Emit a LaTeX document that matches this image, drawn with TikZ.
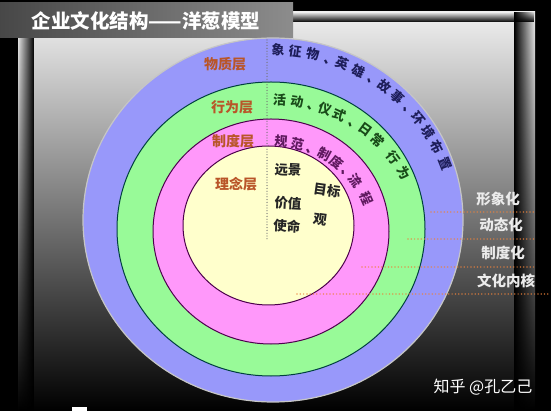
\documentclass[tikz,border=0pt]{standalone}
\usepackage{fontspec}
\setmainfont{Noto Sans CJK SC}
\usetikzlibrary{calc,positioning,fadings}

\definecolor{ringblue}{RGB}{152,152,250}
\definecolor{ringgreen}{RGB}{152,250,152}
\definecolor{ringpink}{RGB}{255,152,250}
\definecolor{ringcream}{RGB}{255,255,204}
\definecolor{blueink}{RGB}{30,30,90}
\definecolor{greenink}{RGB}{25,75,25}
\definecolor{pinkink}{RGB}{95,25,95}
\definecolor{layerbrown}{RGB}{185,85,40}
\definecolor{guideorange}{RGB}{235,130,60}

\tikzstyle{every node}+=[inner sep=0.5mm]
\tikzstyle{layer}=[text=layerbrown, font=\bfseries\fontsize{14}{14}\selectfont]
\tikzstyle{ringchar}=[font=\bfseries\fontsize{13}{13}\selectfont, inner sep=0pt]
\tikzstyle{core}=[text=black!85, font=\bfseries\fontsize{13.5}{14}\selectfont]
\tikzstyle{side}=[text=black!8, font=\bfseries\fontsize{14.5}{15}\selectfont]
\tikzstyle{guide}=[guideorange, opacity=0.75, line width=1.7pt, line cap=round, dash pattern=on 0pt off 3.3pt]
\tikzstyle{divider}=[black!55, line width=1.3pt, line cap=round, dash pattern=on 0pt off 2.8pt]

\newcommand{\dunhao}{\makebox[0.4em][l]{\raisebox{0pt}[0.3em][0pt]{、}}}

\begin{document}
\begin{tikzpicture}[x=1pt,y=-1pt]
    \useasboundingbox (0,0) rectangle (551,411);

    % chars #6 (char/angle) on an ellipse arc at (#1,#2), radii #3,#4, ink #5; commas at angles #7
    \newcommand{\onionarc}[7]{
        \foreach \c/\t [count=\i] in {#6}
            \node[ringchar, text=#5ink, rotate={atan2(-#4*cos(\t),#3*sin(\t))}] (#5\i)
                at ({#1+#3*cos(\t)},{#2-#4*sin(\t)}) {\c};
        \foreach \t [count=\i] in {#7}
            \node[ringchar, text=#5ink, rotate={atan2(-#4*cos(\t),#3*sin(\t))}] (#5mark\i)
                at ({#1+(#3-3)*cos(\t)},{#2-(#4-3)*sin(\t)}) {\dunhao};
    }

    % background panel
    \fill[black] (0,0) rectangle (551,411);
    \shade[top color=black!6, middle color=black!50, bottom color=black] (18,12) rectangle (535,411);
    \fill[black, path fading=west] (18,12) rectangle (34,411);
    \fill[black, path fading=east] (514,12) rectangle (535,411);
    \fill[black, path fading=north] (18,12) rectangle (535,22);
    \shade[left color=black!72, right color=black!45] (0,3) rectangle (293,38);
    \node[text=white, font=\bfseries\fontsize{19.5}{20}\selectfont] (title) at (146,21) {企业文化结构——洋葱模型};
    \fill[white] (72,407) rectangle (87,411);

    % the onion
    \filldraw[fill=ringblue, draw=gray!45, line width=1.2] (273,220) ellipse [x radius=190, y radius=182];
    \filldraw[fill=ringgreen, draw=teal!50!black, line width=1] (271,229) ellipse [x radius=154, y radius=147];
    \filldraw[fill=ringpink, draw=violet!60!black, line width=1] (271,231.5) ellipse [x radius=118, y radius=112.5];
    \filldraw[fill=ringcream, draw=violet!60!black, line width=1] (268.5,225.5) ellipse [x radius=85.5, y radius=79.5];
    \draw[divider] (267,40) -- (267,240);

    % layer names
    \node[layer] (material) at (225,64) {物质层};
    \node[layer] (behaviour) at (232,107) {行为层};
    \node[layer] (system) at (233,141) {制度层};
    \node[layer] (idea) at (236,184) {理念层};

    % ring contents
    \onionarc{271}{226}{186}{176}{blue}{象/87.8,征/82.5,物/77.0,英/67.5,雄/62.0,故/52.3,事/47.0,环/37.5,境/32.3,布/26.7,置/20.6}{72.3,57.2,42.5}
    \onionarc{271}{229}{147}{129}{green}{活/86.6,动/79.8,仪/68.5,式/62.3,日/50.2,常/43.3,行/33.7,为/25.6}{74.6,56.3}
    \onionarc{271}{231}{102}{90}{pink}{规/84.4,范/75.0,制/58.2,度/49.6,流/33.9,程/20.9}{67.8,42.4}
    \node[core, rotate=-3] (vision) at (288,170) {远景};
    \node[core, rotate=-8] (goal) at (327,190) {目标};
    \node[core, rotate=-3] (values) at (288,203) {价值};
    \node[core, rotate=-8] (view) at (320,220) {观};
    \node[core, rotate=-3] (mission) at (287,226) {使命};

    % side scale
    \foreach \xs/\xe/\y in {431/536/212, 408/536/239, 362/536/267, 297/551/294}
        \draw[guide] (\xs,\y) -- (\xe,\y);
    \node[side] (image) at (498,199) {形象化};
    \node[side] (dynamic) at (501,225) {动态化};
    \node[side] (institution) at (503,253) {制度化};
    \node[side] (kernel) at (506,281) {文化内核};

    \node[text=white, font=\fontsize{16}{16}\selectfont] (mark) at (483,387) {知乎 @孔乙己};
\end{tikzpicture}
\end{document}
